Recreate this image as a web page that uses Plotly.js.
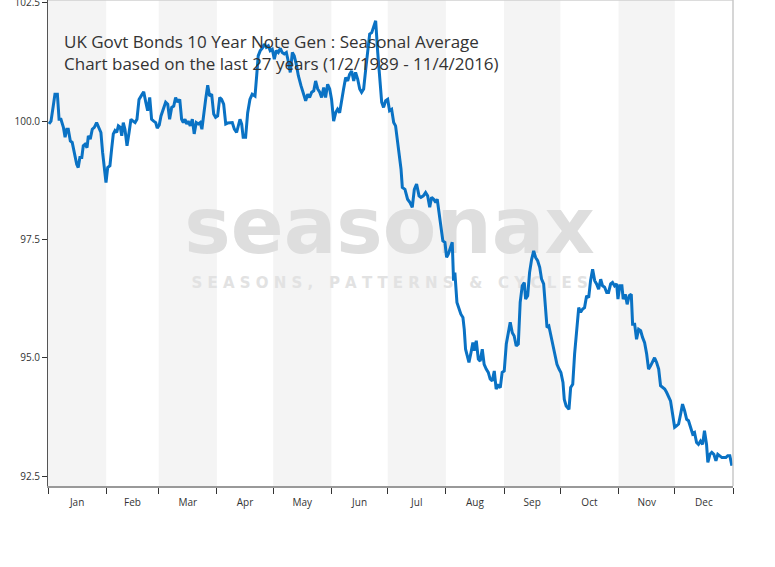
<!DOCTYPE html>
<html>
<head>
<meta charset="utf-8">
<script src="https://cdn.plot.ly/plotly-3.0.1.min.js"></script>
<style>
  html, body { margin: 0; padding: 0; background: #ffffff; }
  #chart { width: 775px; height: 567px; }
</style>
</head>
<body>
<div id="chart"></div>
<script>
// Day of year (0 = 1 Jan) of each sampled point of the seasonal average
const dayOfYear = [
  0.5,1.6,2.8,3.7,5.0,5.9,6.9,8.2,9.1,10.0,10.8,11.9,12.9,14.0,15.3,16.1,17.0,18.0,18.8,19.7,
  20.8,21.5,22.5,23.6,24.7,25.9,27.2,28.2,29.1,30.0,30.9,31.8,33.0,33.9,34.8,35.7,36.6,37.5,38.5,39.3,
  40.1,41.0,42.1,43.2,44.2,45.3,46.4,47.4,48.5,49.9,51.0,52.1,53.1,54.2,55.2,56.3,57.4,58.2,59.3,60.2,
  61.4,62.7,63.8,64.8,65.9,67.0,68.0,69.1,70.2,71.2,72.1,73.0,73.9,74.7,75.8,76.9,77.9,79.0,80.1,81.1,
  82.0,83.0,84.0,85.1,86.1,87.2,88.3,89.3,90.4,91.5,92.5,93.6,94.7,95.7,97.0,98.2,99.3,
  100.5,102.3,103.2,104.0,105.3,106.4,107.6,108.8,110.3,111.2,112.0,113.1,114.2,115.2,116.3,
  117.4,118.4,119.5,120.6,121.6,122.7,123.8,124.8,125.9,127.0,128.0,129.1,130.2,131.2,132.3,
  133.4,134.8,136.2,137.3,138.4,139.4,140.5,141.6,142.6,143.7,144.8,145.8,146.9,147.9,149.0,
  150.1,151.1,152.2,153.3,154.3,155.4,156.5,157.5,158.6,159.7,160.7,161.8,162.9,163.9,165.0,
  166.1,167.1,168.2,169.3,170.3,171.4,172.5,173.5,174.6,175.7,176.7,177.8,178.8,179.9,181.0,
  182.0,183.1,184.2,185.2,186.3,187.4,
  188.1,188.8,190.2,191.6,192.9,194.1,195.2,196.4,197.7,198.7,200.0,201.2,202.3,203.4,204.4,
  205.5,206.6,207.4,208.3,209.4,210.4,211.5,212.4,213.3,214.3,215.4,216.1,216.8,217.9,219.0,
  220.0,221.1,221.8,222.5,223.6,224.3,225.4,226.4,227.1,228.2,229.3,230.3,231.4,232.4,233.5,
  234.6,235.6,236.7,237.8,238.8,239.9,241.0,242.0,243.1,244.2,245.2,246.3,247.4,248.4,249.5,
  250.6,251.6,252.7,253.8,254.5,255.6,256.6,257.7,258.8,259.8,260.9,262.0,263.0,264.1,265.2,
  265.9,266.9,268.0,269.1,270.1,271.2,272.3,273.3,274.4,275.1,276.1,277.6,
  278.5,279.6,280.6,281.7,282.8,283.8,284.9,285.9,287.0,288.1,289.1,290.2,291.3,292.3,293.4,
  294.5,295.5,296.6,297.7,298.7,299.8,300.8,301.9,303.0,303.7,304.7,305.8,306.5,307.6,308.6,
  309.7,310.8,311.5,312.6,313.6,314.7,315.8,316.8,317.9,319.0,320.0,321.1,322.2,323.2,324.3,
  325.4,326.4,327.5,328.6,329.6,330.7,331.7,332.8,333.9,334.9,336.0,337.1,338.1,339.2,340.3,
  341.3,342.4,343.5,344.5,345.6,346.6,347.7,348.8,349.8,350.9,351.6,352.7,353.7,354.8,355.9,
  356.9,358.0,359.1,360.1,361.2,362.2,363.3,364.4
];

// Seasonal average (indexed, start = 100)
const seasonalAvg = [
  99.94,100.00,100.32,100.57,100.57,100.04,100.04,99.87,99.66,99.83,99.83,99.58,99.55,99.34,99.09,99.02,99.23,99.23,99.48,99.51,
  99.44,99.69,99.62,99.83,99.87,99.97,99.87,99.76,99.34,98.99,98.70,99.02,99.06,99.41,99.73,99.80,99.76,99.90,99.87,99.69,
  99.97,99.83,99.48,99.76,100.04,100.00,99.97,100.04,100.46,100.55,100.62,100.40,100.22,100.50,100.04,100.00,99.97,99.85,99.92,100.11,
  100.25,100.40,100.36,100.04,100.29,100.32,100.50,100.40,100.46,100.04,99.97,100.04,99.94,100.00,99.90,100.04,99.73,99.97,99.94,99.97,
  99.83,100.18,100.46,100.76,100.53,100.57,100.15,100.08,100.11,100.50,100.46,100.36,99.94,99.96,99.97,99.97,99.83,
  99.76,100.04,99.94,99.66,99.66,100.18,100.46,100.57,100.53,100.96,101.38,101.49,101.54,101.63,101.56,
  101.59,101.49,101.52,101.31,101.49,101.45,101.54,101.45,101.42,101.45,101.27,101.03,101.45,101.38,101.20,
  100.96,100.75,100.57,100.43,100.57,100.50,100.61,100.64,100.85,100.68,100.61,100.50,100.71,100.50,100.78,
  100.68,100.46,100.00,100.18,100.25,100.18,100.50,100.68,100.92,100.85,100.99,101.06,100.85,101.03,100.89,
  100.68,100.61,100.68,101.10,101.45,101.84,101.87,102.01,102.12,101.45,100.89,100.40,100.29,100.43,100.46,
  100.22,100.25,99.97,99.90,99.55,99.13,
  98.99,98.60,98.56,98.35,98.28,98.18,98.56,98.67,98.42,98.39,98.42,98.49,98.42,98.18,98.39,
  98.35,98.28,98.35,98.07,97.79,97.47,97.44,97.12,97.19,97.33,97.44,96.63,96.80,96.17,96.03,
  95.92,95.85,95.60,95.18,94.97,94.90,95.11,95.32,95.15,95.36,94.97,94.93,95.18,94.86,94.76,
  94.69,94.55,94.51,94.72,94.34,94.41,94.37,94.69,94.72,95.29,95.53,95.75,95.53,95.46,95.25,
  95.29,96.17,96.52,96.59,96.24,96.31,96.80,97.08,97.26,97.12,97.05,96.91,96.66,96.56,95.96,
  95.64,95.67,95.46,95.25,95.00,94.86,94.76,94.69,94.48,94.12,93.98,93.91,
  94.37,94.44,95.08,95.57,96.06,95.96,96.03,96.06,96.31,96.27,96.63,96.87,96.63,96.56,96.45,
  96.66,96.52,96.49,96.38,96.38,96.56,96.59,96.52,96.56,96.24,96.52,96.52,96.24,96.34,96.13,
  96.31,96.34,95.71,95.71,95.39,95.60,95.57,95.43,95.32,95.08,94.76,94.83,94.93,95.00,94.90,
  94.76,94.41,94.37,94.34,94.27,94.16,94.09,93.81,93.53,93.56,93.60,93.81,94.02,93.88,93.70,
  93.67,93.53,93.39,93.42,93.21,93.17,93.24,93.17,93.46,93.17,92.79,92.96,93.00,92.96,92.82,
  92.96,92.93,92.89,92.89,92.89,92.93,92.93,92.72
];

const shadedMonths = [1, 3, 5, 7, 9, 11];   // Jan, Mar, May, Jul, Sep, Nov
const yTicks = [92.5, 95.0, 97.5, 100.0, 102.5];
const titleLines = [
  'UK Govt Bonds 10 Year Note Gen : Seasonal Average',
  'Chart based on the last 27 years (1/2/1989 - 11/4/2016)'
];
const watermarkMain = 'seasonax';
const watermarkSub = 'S E A S O N S ,   P A T T E R N S   &   C Y C L E S';

const YEAR = 2015;
const BASE = Date.UTC(YEAR, 0, 1);
function pad(n) { return (n < 10 ? '0' : '') + n; }
function dayToDate(d) {
  const t = new Date(BASE + d * 86400000);
  return t.getUTCFullYear() + '-' + pad(t.getUTCMonth() + 1) + '-' + pad(t.getUTCDate()) +
         ' ' + pad(t.getUTCHours()) + ':' + pad(t.getUTCMinutes());
}
function monthStart(m) { return YEAR + '-' + pad(m) + '-01'; }
function monthEnd(m) { return m === 12 ? (YEAR + 1) + '-01-01' : YEAR + '-' + pad(m + 1) + '-01'; }

const xDates = dayOfYear.map(dayToDate);

const shapes = shadedMonths.map(m => ({
  type: 'rect', xref: 'x', yref: 'paper', x0: monthStart(m), x1: monthEnd(m), y0: 0, y1: 1,
  fillcolor: '#f4f4f4', line: { width: 0 }, layer: 'below'
}));
shapes.push({ type: 'line', xref: 'paper', yref: 'paper', x0: 0, x1: 1, y0: 1, y1: 1,
  line: { color: '#d0d0d0', width: 1.5 }, layer: 'above' });
shapes.push({ type: 'line', xref: 'paper', yref: 'paper', x0: 1, x1: 1, y0: 0, y1: 1,
  line: { color: '#c8c8c8', width: 1.5 }, layer: 'above' });

const watermark = {
  type: 'scatter', mode: 'text', hoverinfo: 'skip', showlegend: false,
  x: [dayToDate(182), dayToDate(182)], y: [97.62, 96.55],
  text: [watermarkMain, watermarkSub],
  textposition: 'middle center',
  textfont: { family: 'DejaVu Sans', size: [78, 15], weight: 'bold', color: ['#dedede', '#e2e2e2'] }
};

const line = {
  type: 'scatter', mode: 'lines', x: xDates, y: seasonalAvg,
  line: { color: '#0a72c4', width: 3 }, hoverinfo: 'skip', showlegend: false
};

const layout = {
  width: 775, height: 567,
  margin: { l: 48, r: 42, t: 0, b: 81, pad: 0 },
  paper_bgcolor: '#ffffff', plot_bgcolor: '#ffffff',
  showlegend: false,
  font: { family: 'Open Sans, sans-serif', color: '#333333' },
  xaxis: {
    type: 'date', range: [YEAR + '-01-01', (YEAR + 1) + '-01-01'],
    tick0: YEAR + '-01-01', dtick: 'M1', tickformat: '%b', ticklabelmode: 'period',
    ticks: 'outside', ticklen: 6, tickwidth: 1, tickcolor: '#333333',
    showline: true, linecolor: '#999999', linewidth: 1.5,
    showgrid: false, zeroline: false, fixedrange: true,
    tickfont: { size: 10, color: '#333333' }
  },
  yaxis: {
    range: [92.29, 102.56], tickmode: 'array', tickvals: yTicks,
    ticktext: yTicks.map(v => v.toFixed(1)),
    ticks: 'outside', ticklen: 5, tickwidth: 1, tickcolor: '#333333',
    ticklabeloverflow: 'allow',
    showline: true, linecolor: '#555555', linewidth: 1,
    showgrid: false, zeroline: false, fixedrange: true,
    tickfont: { size: 10, color: '#333333' }
  },
  shapes: shapes,
  annotations: [{
    xref: 'paper', yref: 'paper', x: 0.0204, y: 0.891, xanchor: 'left', yanchor: 'middle',
    align: 'left', showarrow: false,
    text: titleLines.join('<br>'),
    font: { family: 'Open Sans, sans-serif', size: 17, color: '#333333' }
  }]
};

Plotly.newPlot('chart', [watermark, line], layout, { displayModeBar: false, staticPlot: true });
</script>
</body>
</html>
